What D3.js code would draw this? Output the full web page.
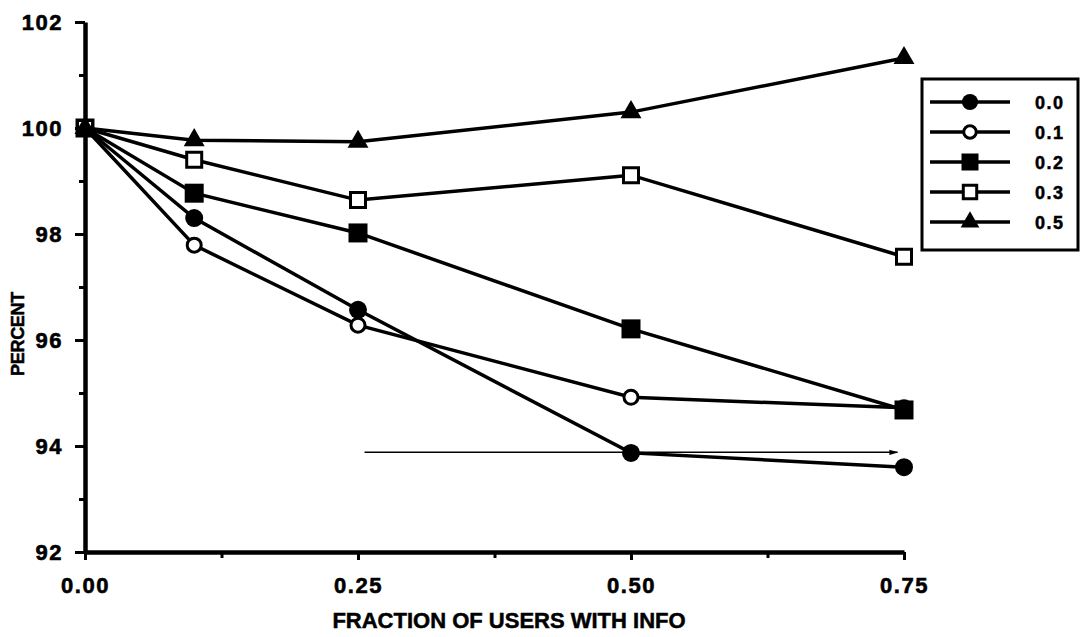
<!DOCTYPE html>
<html>
<head>
<meta charset="utf-8">
<script src="https://cdn.jsdelivr.net/npm/d3@7"></script>
<style>
    body { margin: 0; background: #fff; }
    svg { display: block; }
    .axis path, .axis line { stroke: #000; }
    .axis text { font-family: "Liberation Sans", Arial, sans-serif; font-weight: bold; font-size: 22px; letter-spacing: 1.5px; fill: #000; stroke: #000; stroke-width: 0.6px; }
    .axisTitle { font-family: "Liberation Sans", Arial, sans-serif; font-weight: bold; fill: #000; stroke: #000; stroke-width: 0.5px; }
    .legendText { font-family: "Liberation Sans", Arial, sans-serif; font-weight: bold; font-size: 18px; letter-spacing: 1.5px; fill: #000; stroke: #000; stroke-width: 0.5px; }
</style>
</head>
<body>
<script>
(function(){

    //data
    var xValues = [0, 0.1, 0.25, 0.5, 0.75]; //fraction of users with info
    var series00 = [100, 98.30, 96.57, 93.87, 93.60];
    var series01 = [100, 97.79, 96.28, 94.92, 94.72];
    var series02 = [100, 98.77, 98.02, 96.21, 94.68];
    var series03 = [100, 99.40, 98.64, 99.11, 97.57];
    var series05 = [100, 99.77, 99.74, 100.30, 101.32];
    var seriesLabels = ["0.0", "0.1", "0.2", "0.3", "0.5"];
    var yTicks = [92, 94, 96, 98, 100, 102];
    var yMinorTicks = [93, 95, 97, 99, 101];
    var xTicks = [0, 0.25, 0.5, 0.75];
    var xMinorTicks = [0.125, 0.375, 0.625];
    var arrowX = [0.256, 0.744], arrowY = 93.88; //thin arrow annotation

    //marker style for each series
    var markers = [
        {shape: d3.symbolCircle, filled: true},
        {shape: d3.symbolCircle, filled: false},
        {shape: d3.symbolSquare, filled: true},
        {shape: d3.symbolSquare, filled: false},
        {shape: d3.symbolTriangle, filled: true}
    ];
    var allSeries = [series00, series01, series02, series03, series05];

    window.onload = setChart();

    function setChart(){
        var width = 1081, height = 637;

        var svg = d3.select("body")
            .append("svg")
            .attr("width", width)
            .attr("height", height);

        //scales
        var x = d3.scaleLinear().domain([0, 0.75]).range([85, 904]);
        var y = d3.scaleLinear().domain([92, 102]).range([552, 22]);

        //minor ticks first
        svg.append("g")
            .attr("class", "axis")
            .attr("transform", "translate(85,0)")
            .call(d3.axisLeft(y).tickValues(yMinorTicks).tickSize(6).tickFormat(""))
            .call(function(g){ g.select(".domain").remove(); })
            .selectAll("line").attr("stroke-width", 3);

        svg.append("g")
            .attr("class", "axis")
            .attr("transform", "translate(0,552)")
            .call(d3.axisBottom(x).tickValues(xMinorTicks).tickSize(6).tickFormat(""))
            .call(function(g){ g.select(".domain").remove(); })
            .selectAll("line").attr("stroke-width", 3);

        //y axis
        var yAxis = svg.append("g")
            .attr("class", "axis")
            .attr("transform", "translate(85,0)")
            .call(d3.axisLeft(y).tickValues(yTicks).tickSize(10).tickSizeOuter(0).tickPadding(12).tickFormat(d3.format("d")));
        yAxis.select(".domain").attr("stroke-width", 4.5);
        yAxis.selectAll(".tick line").attr("stroke-width", 3);

        //x axis
        var xAxis = svg.append("g")
            .attr("class", "axis")
            .attr("transform", "translate(0,552)")
            .call(d3.axisBottom(x).tickValues(xTicks).tickSize(8).tickSizeOuter(0).tickPadding(17).tickFormat(d3.format(".2f")));
        xAxis.select(".domain").attr("stroke-width", 4.5);
        xAxis.selectAll(".tick line").attr("stroke-width", 3);

        //axis titles
        svg.append("text")
            .attr("class", "axisTitle")
            .attr("x", 509)
            .attr("y", 628)
            .attr("text-anchor", "middle")
            .style("font-size", "22px")
            .style("letter-spacing", "0px")
            .text("FRACTION OF USERS WITH INFO");

        svg.append("text")
            .attr("class", "axisTitle")
            .attr("transform", "translate(24,334) rotate(-90)")
            .attr("text-anchor", "middle")
            .style("font-size", "18px")
            .style("letter-spacing", "-0.3px")
            .text("PERCENT");

        //arrow annotation
        svg.append("defs").append("marker")
            .attr("id", "arrowHead")
            .attr("viewBox", "0 0 10 10")
            .attr("refX", 9).attr("refY", 5)
            .attr("markerWidth", 6).attr("markerHeight", 6)
            .attr("orient", "auto")
            .append("path")
            .attr("d", "M0,2 L10,5 L0,8 Z")
            .attr("fill", "#000");

        svg.append("line")
            .attr("x1", x(arrowX[0])).attr("y1", y(arrowY))
            .attr("x2", x(arrowX[1])).attr("y2", y(arrowY))
            .attr("stroke", "#000")
            .attr("stroke-width", 1.5)
            .attr("marker-end", "url(#arrowHead)");

        //series lines
        var line = d3.line()
            .x(function(d, i){ return x(xValues[i]); })
            .y(function(d){ return y(d); });

        svg.selectAll(".seriesLine")
            .data(allSeries)
            .enter()
            .append("path")
            .attr("class", "seriesLine")
            .attr("d", line)
            .attr("fill", "none")
            .attr("stroke", "#000")
            .attr("stroke-width", 3.5);

        //series markers
        allSeries.forEach(function(s, k){
            svg.selectAll(".marker" + k)
                .data(s)
                .enter()
                .append("path")
                .attr("class", "marker" + k)
                .attr("transform", function(d, i){ return "translate(" + x(xValues[i]) + "," + y(d) + ")"; })
                .attr("d", symbolPath(k, 1));
        });

        setLegend(svg);
    };

    //symbol path generator for series k
    function symbolPath(k, scale){
        var m = markers[k];
        var size;
        if (m.shape === d3.symbolCircle) size = m.filled ? 254 : 154;
        else if (m.shape === d3.symbolSquare) size = m.filled ? 361 : 225;
        else size = 190;
        return d3.symbol().type(m.shape).size(size * scale)();
    };

    function styleMarker(sel, k){
        var m = markers[k];
        sel.attr("fill", m.filled ? "#000" : "#fff")
            .attr("stroke", "#000")
            .attr("stroke-width", m.filled ? 0 : 3);
    };

    function setLegend(svg){
        //legend frame
        svg.append("rect")
            .attr("x", 922)
            .attr("y", 79)
            .attr("width", 156)
            .attr("height", 171)
            .attr("fill", "#fff")
            .attr("stroke", "#000")
            .attr("stroke-width", 3);

        var rows = svg.selectAll(".legendRow")
            .data(seriesLabels)
            .enter()
            .append("g")
            .attr("class", "legendRow")
            .attr("transform", function(d, i){ return "translate(0," + (102 + i * 30) + ")"; });

        rows.append("line")
            .attr("x1", 930).attr("x2", 1010)
            .attr("stroke", "#000")
            .attr("stroke-width", 3.5);

        rows.append("path")
            .attr("transform", "translate(970,0)")
            .attr("d", function(d, i){ return symbolPath(i, 0.8); })
            .each(function(d, i){ styleMarker(d3.select(this), i); });

        rows.append("text")
            .attr("class", "legendText")
            .attr("x", 1035)
            .attr("y", 7)
            .text(function(d){ return d; });

        //restyle plot markers
        markers.forEach(function(m, k){
            styleMarker(svg.selectAll(".marker" + k), k);
        });
    };

})();
</script>
</body>
</html>
